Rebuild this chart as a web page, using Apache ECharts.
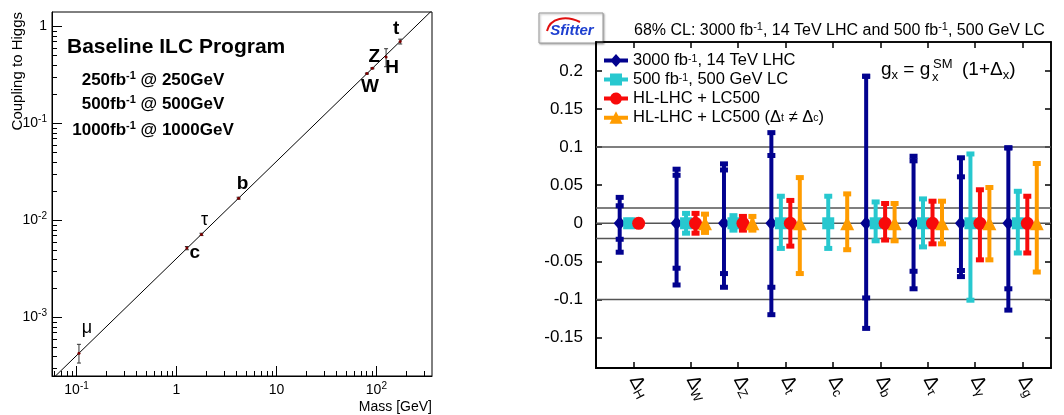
<!DOCTYPE html>
<html>
<head>
<meta charset="utf-8">
<script src="https://cdn.jsdelivr.net/npm/echarts@6/dist/echarts.min.js"></script>
<style>
  html, body { margin: 0; padding: 0; background: #fff; }
  #chart { width: 1064px; height: 415px; }
</style>
</head>
<body>
<div id="chart"></div>
<script>
// ---- left panel: coupling to Higgs vs particle mass ----
const particles = ['μ', 'c', 'τ', 'b', 'W', 'Z', 'H', 't'];
const masses = [0.1057, 1.27, 1.777, 4.18, 80.4, 91.19, 125, 173];
const couplings = [0.00043, 0.0052, 0.0072, 0.017, 0.327, 0.371, 0.485, 0.70];
const couplingLo = [0.00034, 0.0050, 0.0070, 0.0166, 0.323, 0.366, 0.385, 0.66];
const couplingHi = [0.00053, 0.0054, 0.0074, 0.0174, 0.331, 0.376, 0.59, 0.74];
const vev = 246;
const massTicks = [0.1, 1, 10, 100];
const couplingTicks = [0.001, 0.01, 0.1, 1];

// ---- right panel: coupling deviations ----
const deltas = ['H', 'W', 'Z', 't', 'c', 'b', 'τ', 'γ', 'g'];
const catX = [0.8, 2, 3, 4, 5, 6, 7, 8, 9];
const centre = [0, 0, 0, 0, 0, 0, 0, 0, 0];
const lhcLo = [-0.038, -0.081, -0.084, -0.120, null, -0.138, -0.086, -0.070, -0.114];
const lhcHi = [0.034, 0.071, 0.078, 0.119, null, 0.193, 0.088, 0.086, 0.099];
const lhcInnerLo = [-0.021, -0.059, -0.066, -0.084, null, -0.098, -0.063, -0.062, -0.086];
const lhcInnerHi = [0.023, 0.063, 0.070, 0.089, null, 0.193, 0.082, 0.061, 0.099];
const lcLo = [-0.004, -0.013, -0.009, -0.033, -0.033, -0.023, -0.031, -0.101, -0.039];
const lcHi = [0.004, 0.013, 0.010, 0.0355, 0.0355, 0.028, 0.032, 0.091, 0.042];
const comboLo = [-0.004, -0.013, -0.009, -0.030, null, -0.022, -0.027, -0.048, -0.039];
const comboHi = [0.004, 0.013, 0.009, 0.030, null, 0.026, 0.029, 0.044, 0.0355];
const splitLo = [null, -0.012, -0.009, -0.066, -0.0347, -0.023, -0.027, -0.048, -0.064];
const splitHi = [null, 0.012, 0.009, 0.060, 0.0386, 0.026, 0.029, 0.047, 0.0785];
const devTicks = [-0.15, -0.1, -0.05, 0, 0.05, 0.1, 0.15, 0.2];
const refLines = [0.1, 0.02, 0, -0.02, -0.1];

const FONT = '"Liberation Sans", Arial, sans-serif';
const X_MIN = 0.0568, X_MAX = 360, Y_MIN = 2.5e-4, Y_MAX = 1.41;
const D_MIN = -0.19, D_MAX = 0.238, C_MIN = 0, C_MAX = 9.6;

// label nudges for the particle names (pixels), and weight
const labelPlacement = {
  'μ': [8, -25, 'normal'], c: [8, 5, 'bold'], 'τ': [3, -14, 'normal'], b: [4, -14, 'bold'],
  W: [3, 13, 'bold'], Z: [2, -11, 'bold'], H: [6, 11, 'bold'], t: [-4, -13, 'bold']
};

const sets = [
  { name: 'lhc', label: '3000 fb{sup|-1}, 14 TeV LHC', lo: lhcLo, hi: lhcHi, lo2: lhcInnerLo, hi2: lhcInnerHi,
    color: '#02028f', symbol: 'diamond', size: [12, 14], offset: -0.3,
    icon: 'path://M0,4.5H8L12,0L16,4.5H24V8.5H16L12,13L8,8.5H0Z' },
  { name: 'lc', label: '500 fb{sup|-1}, 500 GeV LC', lo: lcLo, hi: lcHi,
    color: '#27c8cf', symbol: 'rect', size: 12, offset: -0.1,
    icon: 'path://M0,4.5H6V0.5H18V4.5H24V8.5H18V12.5H6V8.5H0Z' },
  { name: 'combo', label: 'HL-LHC + LC500', lo: comboLo, hi: comboHi,
    color: '#f80a0a', symbol: 'circle', size: 13, offset: 0.1,
    icon: 'path://M0,4.5H6.34A6,6 0 0 1 17.66,4.5H24V8.5H17.66A6,6 0 0 1 6.34,8.5H0Z' },
  { name: 'split', label: 'HL-LHC + LC500 (Δ{sub|t} ≠ Δ{sub|c})', lo: splitLo, hi: splitHi,
    color: '#ff9c00', symbol: 'triangle', size: 14, offset: 0.3,
    icon: 'path://M0,4.5H9.66L12,0L14.34,4.5H24V8.5H16.42L18.5,12.5H5.5L7.58,8.5H0Z' }
];

function powLabel(v) {
  if (Math.abs(v - 1) < 1e-9) return '1';
  if (Math.abs(v - 10) < 1e-9) return '10';
  return '10{sup|' + Math.round(Math.log10(v)) + '}';
}

function minorTicks(lo, hi) {
  const out = [];
  for (let e = Math.floor(Math.log10(lo)); e <= Math.ceil(Math.log10(hi)); e++) {
    for (let m = 2; m <= 9; m++) {
      const v = m * Math.pow(10, e);
      if (v > lo && v < hi) out.push(v);
    }
  }
  return out;
}

const supRich = { sup: { fontSize: 10, verticalAlign: 'top', fontFamily: FONT } };
const subRich = {
  d: { fontSize: 19, fontFamily: FONT, color: '#000' },
  sub: { fontSize: 13, verticalAlign: 'bottom', fontFamily: FONT, color: '#000' }
};
const boldSup = { sup: { font: 'bold 11px ' + FONT, verticalAlign: 'top' } };

function logAxis(extra) {
  return Object.assign({
    type: 'log', gridIndex: 0, splitLine: { show: false },
    axisLine: { onZero: false, lineStyle: { color: '#000', width: 1 } }
  }, extra);
}

function errorBarRender(color, offset) {
  return function (params, api) {
    const x = api.value(0) + offset;
    const lo = api.coord([x, api.value(1)]);
    const hi = api.coord([x, api.value(2)]);
    const children = [{
      type: 'rect', shape: { x: lo[0] - 2, y: hi[1], width: 4, height: lo[1] - hi[1] },
      style: { fill: color }
    }];
    [api.value(1), api.value(2), api.value(3), api.value(4)].forEach(function (v) {
      if (v == null || isNaN(v)) return;
      const p = api.coord([x, v]);
      children.push({ type: 'rect', shape: { x: p[0] - 4, y: p[1] - 2.5, width: 8, height: 5 }, style: { fill: color } });
    });
    return { type: 'group', children: children };
  };
}

const series = [];

// left panel
series.push({
  type: 'line', xAxisIndex: 0, yAxisIndex: 0, silent: true, symbol: 'none', clip: true,
  data: [[X_MIN, X_MIN / vev], [X_MAX, X_MAX / vev]],
  lineStyle: { color: '#000', width: 1 }, z: 1
});
series.push({
  type: 'custom', xAxisIndex: 0, yAxisIndex: 0, silent: true, z: 2,
  data: masses.map((m, i) => [m, couplingLo[i], couplingHi[i]]),
  renderItem: function (params, api) {
    const x = api.value(0);
    const lo = api.coord([x, api.value(1)]);
    const hi = api.coord([x, api.value(2)]);
    const st = { stroke: '#333', lineWidth: 1 };
    return { type: 'group', children: [
      { type: 'line', shape: { x1: lo[0], y1: lo[1], x2: hi[0], y2: hi[1] }, style: st },
      { type: 'line', shape: { x1: lo[0] - 2, y1: lo[1], x2: lo[0] + 2, y2: lo[1] }, style: st },
      { type: 'line', shape: { x1: hi[0] - 2, y1: hi[1], x2: hi[0] + 2, y2: hi[1] }, style: st }
    ] };
  }
});
series.push({
  type: 'scatter', xAxisIndex: 0, yAxisIndex: 0, silent: true, z: 3,
  symbol: 'circle', symbolSize: 3, itemStyle: { color: '#7a0000', opacity: 1 },
  data: masses.map((m, i) => {
    const lp = labelPlacement[particles[i]];
    return { name: particles[i], value: [m, couplings[i]],
      label: { offset: [lp[0], lp[1]], fontWeight: lp[2], fontSize: lp[2] === 'bold' ? 19 : 18 } };
  }),
  label: { show: true, position: 'inside', formatter: '{b}', color: '#000', opacity: 1, fontFamily: FONT }
});

// right panel reference lines
series.push({
  type: 'custom', xAxisIndex: 2, yAxisIndex: 2, silent: true, z: 1,
  data: refLines.map(v => [C_MIN, v]),
  renderItem: function (params, api) {
    const cs = params.coordSys;
    const y = api.coord([api.value(0), api.value(1)])[1];
    return { type: 'line', shape: { x1: cs.x, y1: y, x2: cs.x + cs.width, y2: y },
      style: { stroke: '#555', lineWidth: 1.5 } };
  }
});

sets.forEach(function (s) {
  const barData = [];
  const markData = [];
  catX.forEach(function (x, i) {
    if (s.lo[i] == null) return;
    const row = [x, s.lo[i], s.hi[i]];
    if (s.lo2) row.push(s.lo2[i], s.hi2[i]);
    barData.push(row);
    markData.push([x + s.offset, centre[i]]);
  });
  series.push({
    type: 'custom', name: s.name + '-err', xAxisIndex: 2, yAxisIndex: 2, silent: true, z: 2,
    data: barData, renderItem: errorBarRender(s.color, s.offset)
  });
  series.push({
    type: 'scatter', name: s.name, xAxisIndex: 2, yAxisIndex: 2, silent: true, z: 2,
    symbol: s.symbol, symbolSize: s.size, itemStyle: { color: s.color, opacity: 1 },
    data: markData
  });
});

const option = {
  animation: false,
  backgroundColor: '#fff',
  textStyle: { fontFamily: FONT },
  grid: [
    { left: 52, top: 12, width: 380, height: 364, show: true, borderColor: '#000', borderWidth: 1, backgroundColor: 'transparent' },
    { left: 596, top: 42, width: 455, height: 326, show: true, borderColor: '#000', borderWidth: 1.5, backgroundColor: 'transparent' }
  ],
  xAxis: [
    logAxis({ min: X_MIN, max: X_MAX, position: 'bottom',
      axisTick: { inside: true, length: 10, customValues: massTicks, lineStyle: { color: '#000' } },
      axisLabel: { customValues: massTicks, formatter: powLabel, fontSize: 14, color: '#000', margin: 5, lineHeight: 18, rich: supRich } }),
    logAxis({ min: X_MIN, max: X_MAX, position: 'bottom', axisLine: { show: false, onZero: false },
      axisTick: { inside: true, length: 5, customValues: minorTicks(X_MIN, X_MAX), lineStyle: { color: '#000' } },
      axisLabel: { show: false } }),
    { type: 'value', gridIndex: 1, min: C_MIN, max: C_MAX, position: 'bottom', splitLine: { show: false },
      axisLine: { onZero: false, lineStyle: { color: '#000', width: 2 } },
      axisTick: { inside: true, length: 6, customValues: catX, lineStyle: { color: '#000', width: 1.5 } },
      axisLabel: { customValues: catX, rotate: -62, margin: 9, fontSize: 19, color: '#000', lineHeight: 22,
        formatter: v => '{d|Δ}{sub|' + deltas[catX.indexOf(v)] + '}', rich: subRich } },
    { type: 'value', gridIndex: 1, min: C_MIN, max: C_MAX, position: 'top', splitLine: { show: false },
      axisLine: { onZero: false, lineStyle: { color: '#000', width: 1.5 } },
      axisTick: { inside: true, length: 6, customValues: catX, lineStyle: { color: '#000', width: 1.5 } },
      axisLabel: { show: false } }
  ],
  yAxis: [
    logAxis({ min: Y_MIN, max: Y_MAX, position: 'left',
      axisTick: { inside: true, length: 10, customValues: couplingTicks, lineStyle: { color: '#000' } },
      axisLabel: { customValues: couplingTicks, formatter: powLabel, fontSize: 14, color: '#000', margin: 5, lineHeight: 18, rich: supRich } }),
    logAxis({ min: Y_MIN, max: Y_MAX, position: 'left', axisLine: { show: false, onZero: false },
      axisTick: { inside: true, length: 5, customValues: minorTicks(Y_MIN, Y_MAX), lineStyle: { color: '#000' } },
      axisLabel: { show: false } }),
    { type: 'value', gridIndex: 1, min: D_MIN, max: D_MAX, position: 'left', splitLine: { show: false },
      axisLine: { onZero: false, lineStyle: { color: '#000', width: 2 } },
      axisTick: { inside: true, length: 6, customValues: devTicks, lineStyle: { color: '#000', width: 1.5 } },
      axisLabel: { customValues: devTicks, fontSize: 17, color: '#000', margin: 13,
        formatter: v => String(+v.toFixed(2)) } },
    { type: 'value', gridIndex: 1, min: D_MIN, max: D_MAX, position: 'right', splitLine: { show: false },
      axisLine: { onZero: false, lineStyle: { color: '#000', width: 1.5 } },
      axisTick: { inside: true, length: 6, customValues: devTicks, lineStyle: { color: '#000', width: 1.5 } },
      axisLabel: { show: false } }
  ],
  legend: {
    orient: 'vertical', left: 604, top: 52, padding: 0, itemGap: 2,
    itemWidth: 24, itemHeight: 13, selectedMode: false,
    data: sets.map(s => ({ name: s.name, icon: s.icon })),
    formatter: name => sets.find(s => s.name === name).label,
    textStyle: { fontSize: 16.5, color: '#000', lineHeight: 13,
      rich: { sup: { fontSize: 10.5, verticalAlign: 'top', lineHeight: 13 }, sub: { fontSize: 10.5, verticalAlign: 'bottom', lineHeight: 13 } } }
  },
  graphic: [
    // left panel texts
    { type: 'text', left: 67, top: 37, style: { text: 'Baseline ILC Program', font: 'bold 21px ' + FONT, fill: '#000' } },
    { type: 'text', x: 153, y: 80, style: { text: '250fb{sup|-1} @ 250GeV', font: 'bold 17px ' + FONT, fill: '#000',
      align: 'center', verticalAlign: 'middle', lineHeight: 20, rich: boldSup } },
    { type: 'text', x: 153, y: 104, style: { text: '500fb{sup|-1} @ 500GeV', font: 'bold 17px ' + FONT, fill: '#000',
      align: 'center', verticalAlign: 'middle', lineHeight: 20, rich: boldSup } },
    { type: 'text', x: 153, y: 130, style: { text: '1000fb{sup|-1} @ 1000GeV', font: 'bold 17px ' + FONT, fill: '#000',
      align: 'center', verticalAlign: 'middle', lineHeight: 20, rich: boldSup } },
    { type: 'text', x: 18, y: 12, rotation: Math.PI / 2, style: { text: 'Coupling to Higgs', font: '15px ' + FONT, fill: '#000',
      align: 'right', verticalAlign: 'middle' } },
    { type: 'text', x: 432, y: 407, style: { text: 'Mass [GeV]', font: '14px ' + FONT, fill: '#000', align: 'right', verticalAlign: 'middle' } },
    // right panel texts
    { type: 'text', x: 634, y: 31, style: { text: '68% CL: 3000 fb{sup|-1}, 14 TeV LHC and 500 fb{sup|-1}, 500 GeV LC',
      font: '16px ' + FONT, fill: '#000', verticalAlign: 'middle', lineHeight: 20, rich: { sup: { font: '11px ' + FONT, verticalAlign: 'top' } } } },
    { type: 'text', x: 881, y: 70, style: { text: 'g{sub|x} = g', font: '19px ' + FONT, fill: '#000', verticalAlign: 'middle', lineHeight: 24,
      rich: { sub: { font: '13px ' + FONT, verticalAlign: 'bottom' } } } },
    { type: 'text', x: 932, y: 77, style: { text: 'x', font: '13px ' + FONT, fill: '#000', verticalAlign: 'middle' } },
    { type: 'text', x: 933, y: 64, style: { text: 'SM', font: '13px ' + FONT, fill: '#000', verticalAlign: 'middle' } },
    { type: 'text', x: 962, y: 70, style: { text: '(1+Δ{sub|x})', font: '19px ' + FONT, fill: '#000', verticalAlign: 'middle', lineHeight: 24,
      rich: { sub: { font: '13px ' + FONT, verticalAlign: 'bottom' } } } },
    // SFitter logo
    { type: 'rect', shape: { x: 539, y: 13, width: 64, height: 30 }, style: { fill: '#fff', stroke: '#999', lineWidth: 1,
      shadowBlur: 2, shadowColor: 'rgba(0,0,0,0.3)', shadowOffsetX: 1, shadowOffsetY: 1 } },
    { type: 'bezierCurve', shape: { x1: 547, y1: 31, cpx1: 550, cpy1: 18, x2: 580, y2: 22, cpx2: 566, cpy2: 15 },
      style: { stroke: '#e01010', lineWidth: 2, fill: null } },
    { type: 'text', x: 572, y: 31, style: { text: 'Sfitter', font: 'italic bold 15px ' + FONT, fill: '#1d3fd0', align: 'center', verticalAlign: 'middle' } }
  ],
  series: series
};

const chart = echarts.init(document.getElementById('chart'));
chart.setOption(option);
</script>
</body>
</html>
